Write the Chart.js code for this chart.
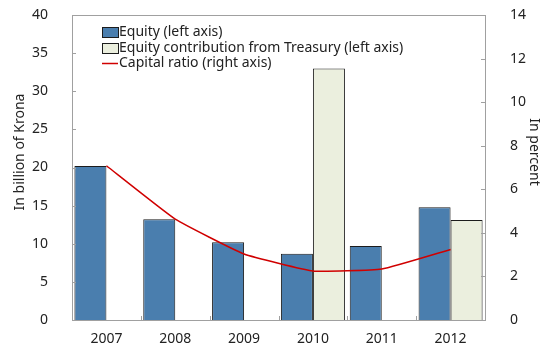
<!DOCTYPE html>
<html>
<head>
<meta charset="utf-8">
<script src="https://cdn.jsdelivr.net/npm/chart.js@4/dist/chart.umd.min.js"></script>
<style>
  html, body { margin: 0; padding: 0; background: #fff; }
  #wrap { width: 542px; height: 348px; }
</style>
</head>
<body>
<div id="wrap"><canvas id="equityChart"></canvas></div>
<script>
// values in billion of krona and percent
const years = ['2007', '2008', '2009', '2010', '2011', '2012'];
const equity = [20.2, 13.2, 10.2, 8.7, 9.7, 14.8];
const treasuryContribution = [null, null, null, 33.0, null, 13.1];
const capitalRatio = [7.08, 4.63, 3.03, 2.25, 2.34, 3.24];
const leftTicks = [0, 5, 10, 15, 20, 25, 30, 35, 40];
const rightTicks = [0, 2, 4, 6, 8, 10, 12, 14];

const FONT = '"Noto Sans", "Open Sans", sans-serif';
const TEXT = '#222';
const AXIS = '#a0a0a0';

// frame, inward tick marks, axis titles and the legend box
const decorations = {
    id: 'decorations',
    afterDraw(chart) {
        const ctx = chart.ctx;
        const area = chart.chartArea;
        const y = chart.scales.y;
        const y2 = chart.scales.y2;
        const x = chart.scales.x;

        ctx.save();
        ctx.strokeStyle = AXIS;
        ctx.lineWidth = 1;
        ctx.beginPath();
        ctx.moveTo(area.left, area.top + 0.5);
        ctx.lineTo(area.right, area.top + 0.5);
        leftTicks.forEach(v => {
            const py = Math.round(y.getPixelForValue(v)) + 0.5;
            ctx.moveTo(area.left, py);
            ctx.lineTo(area.left + 4, py);
        });
        rightTicks.forEach(v => {
            const py = Math.round(y2.getPixelForValue(v)) + 0.5;
            ctx.moveTo(area.right - 4, py);
            ctx.lineTo(area.right, py);
        });
        const step = x.getPixelForTick(1) - x.getPixelForTick(0);
        for (let i = 1; i < years.length; i++) {
            const px = Math.round(x.getPixelForTick(i) - step / 2) + 0.5;
            ctx.moveTo(px, area.bottom);
            ctx.lineTo(px, area.bottom - 4);
        }
        ctx.stroke();

        // axis titles
        ctx.fillStyle = TEXT;
        ctx.font = '14px ' + FONT;
        ctx.textAlign = 'center';
        ctx.textBaseline = 'middle';
        ctx.save();
        ctx.translate(20, 152);
        ctx.rotate(-Math.PI / 2);
        ctx.fillText('In billion of Krona', 0, 0);
        ctx.restore();
        ctx.save();
        ctx.translate(534, 152);
        ctx.rotate(Math.PI / 2);
        ctx.fillText('In percent', 0, 0);
        ctx.restore();

        // legend
        const rows = [32, 48, 63];
        ctx.textAlign = 'left';
        chart.data.datasets.forEach((ds, i) => {
            const ry = rows[i];
            if (ds.type === 'line') {
                ctx.strokeStyle = ds.borderColor;
                ctx.lineWidth = 1.5;
                ctx.beginPath();
                ctx.moveTo(102, ry + 0.5);
                ctx.lineTo(118, ry + 0.5);
                ctx.stroke();
            } else {
                ctx.fillStyle = ds.backgroundColor;
                ctx.fillRect(102, ry - 5, 16, 10);
                ctx.strokeStyle = ds.borderColor;
                ctx.lineWidth = 1;
                ctx.strokeRect(102.5, ry - 4.5, 16, 10);
            }
            ctx.fillStyle = TEXT;
            ctx.fillText(ds.label, 119, ry);
        });
        ctx.restore();
    }
};

// fixed axis sizes so the plot box sits where it should
function fitY(width) {
    return function (scale) {
        scale.width = width;
        scale.paddingTop = 0;
        scale.paddingBottom = 0;
    };
}

const ctx = document.getElementById('equityChart').getContext('2d');
const chart = new Chart(ctx, {
    data: {
        labels: years,
        datasets: [{
            type: 'bar',
            label: 'Equity (left axis)',
            data: equity,
            yAxisID: 'y',
            backgroundColor: '#4a7eae',
            borderColor: '#1c1c1c',
            borderWidth: 1,
            borderSkipped: 'bottom',
            order: 2
        }, {
            type: 'bar',
            label: 'Equity contribution from Treasury (left axis)',
            data: treasuryContribution,
            yAxisID: 'y',
            backgroundColor: '#ebefde',
            borderColor: '#1c1c1c',
            borderWidth: 1,
            borderSkipped: 'bottom',
            order: 3
        }, {
            type: 'line',
            label: 'Capital ratio (right axis)',
            data: capitalRatio,
            yAxisID: 'y2',
            borderColor: '#d00000',
            borderWidth: 1.5,
            pointRadius: 0,
            tension: 0.12,
            fill: false,
            order: 1
        }]
    },
    options: {
        responsive: true,
        maintainAspectRatio: false,
        animation: false,
        layout: { padding: { top: 15 } },
        datasets: {
            bar: { categoryPercentage: 0.93, barPercentage: 1.0 }
        },
        plugins: {
            legend: { display: false },
            tooltip: { enabled: false }
        },
        scales: {
            x: {
                grid: { display: false },
                border: { color: AXIS },
                ticks: { color: TEXT, font: { family: FONT, size: 14 }, padding: 3 },
                afterFit(scale) { scale.height = 28; }
            },
            y: {
                position: 'left',
                min: 0, max: 40,
                grid: { display: false },
                border: { color: AXIS },
                ticks: { stepSize: 5, color: TEXT, font: { family: FONT, size: 14 }, padding: 16 },
                afterFit: fitY(72)
            },
            y2: {
                position: 'right',
                min: 0, max: 14,
                grid: { display: false },
                border: { color: AXIS },
                ticks: { stepSize: 2, color: TEXT, font: { family: FONT, size: 14 }, padding: 17 },
                afterFit: fitY(57)
            }
        }
    },
    plugins: [decorations]
});
</script>
</body>
</html>
